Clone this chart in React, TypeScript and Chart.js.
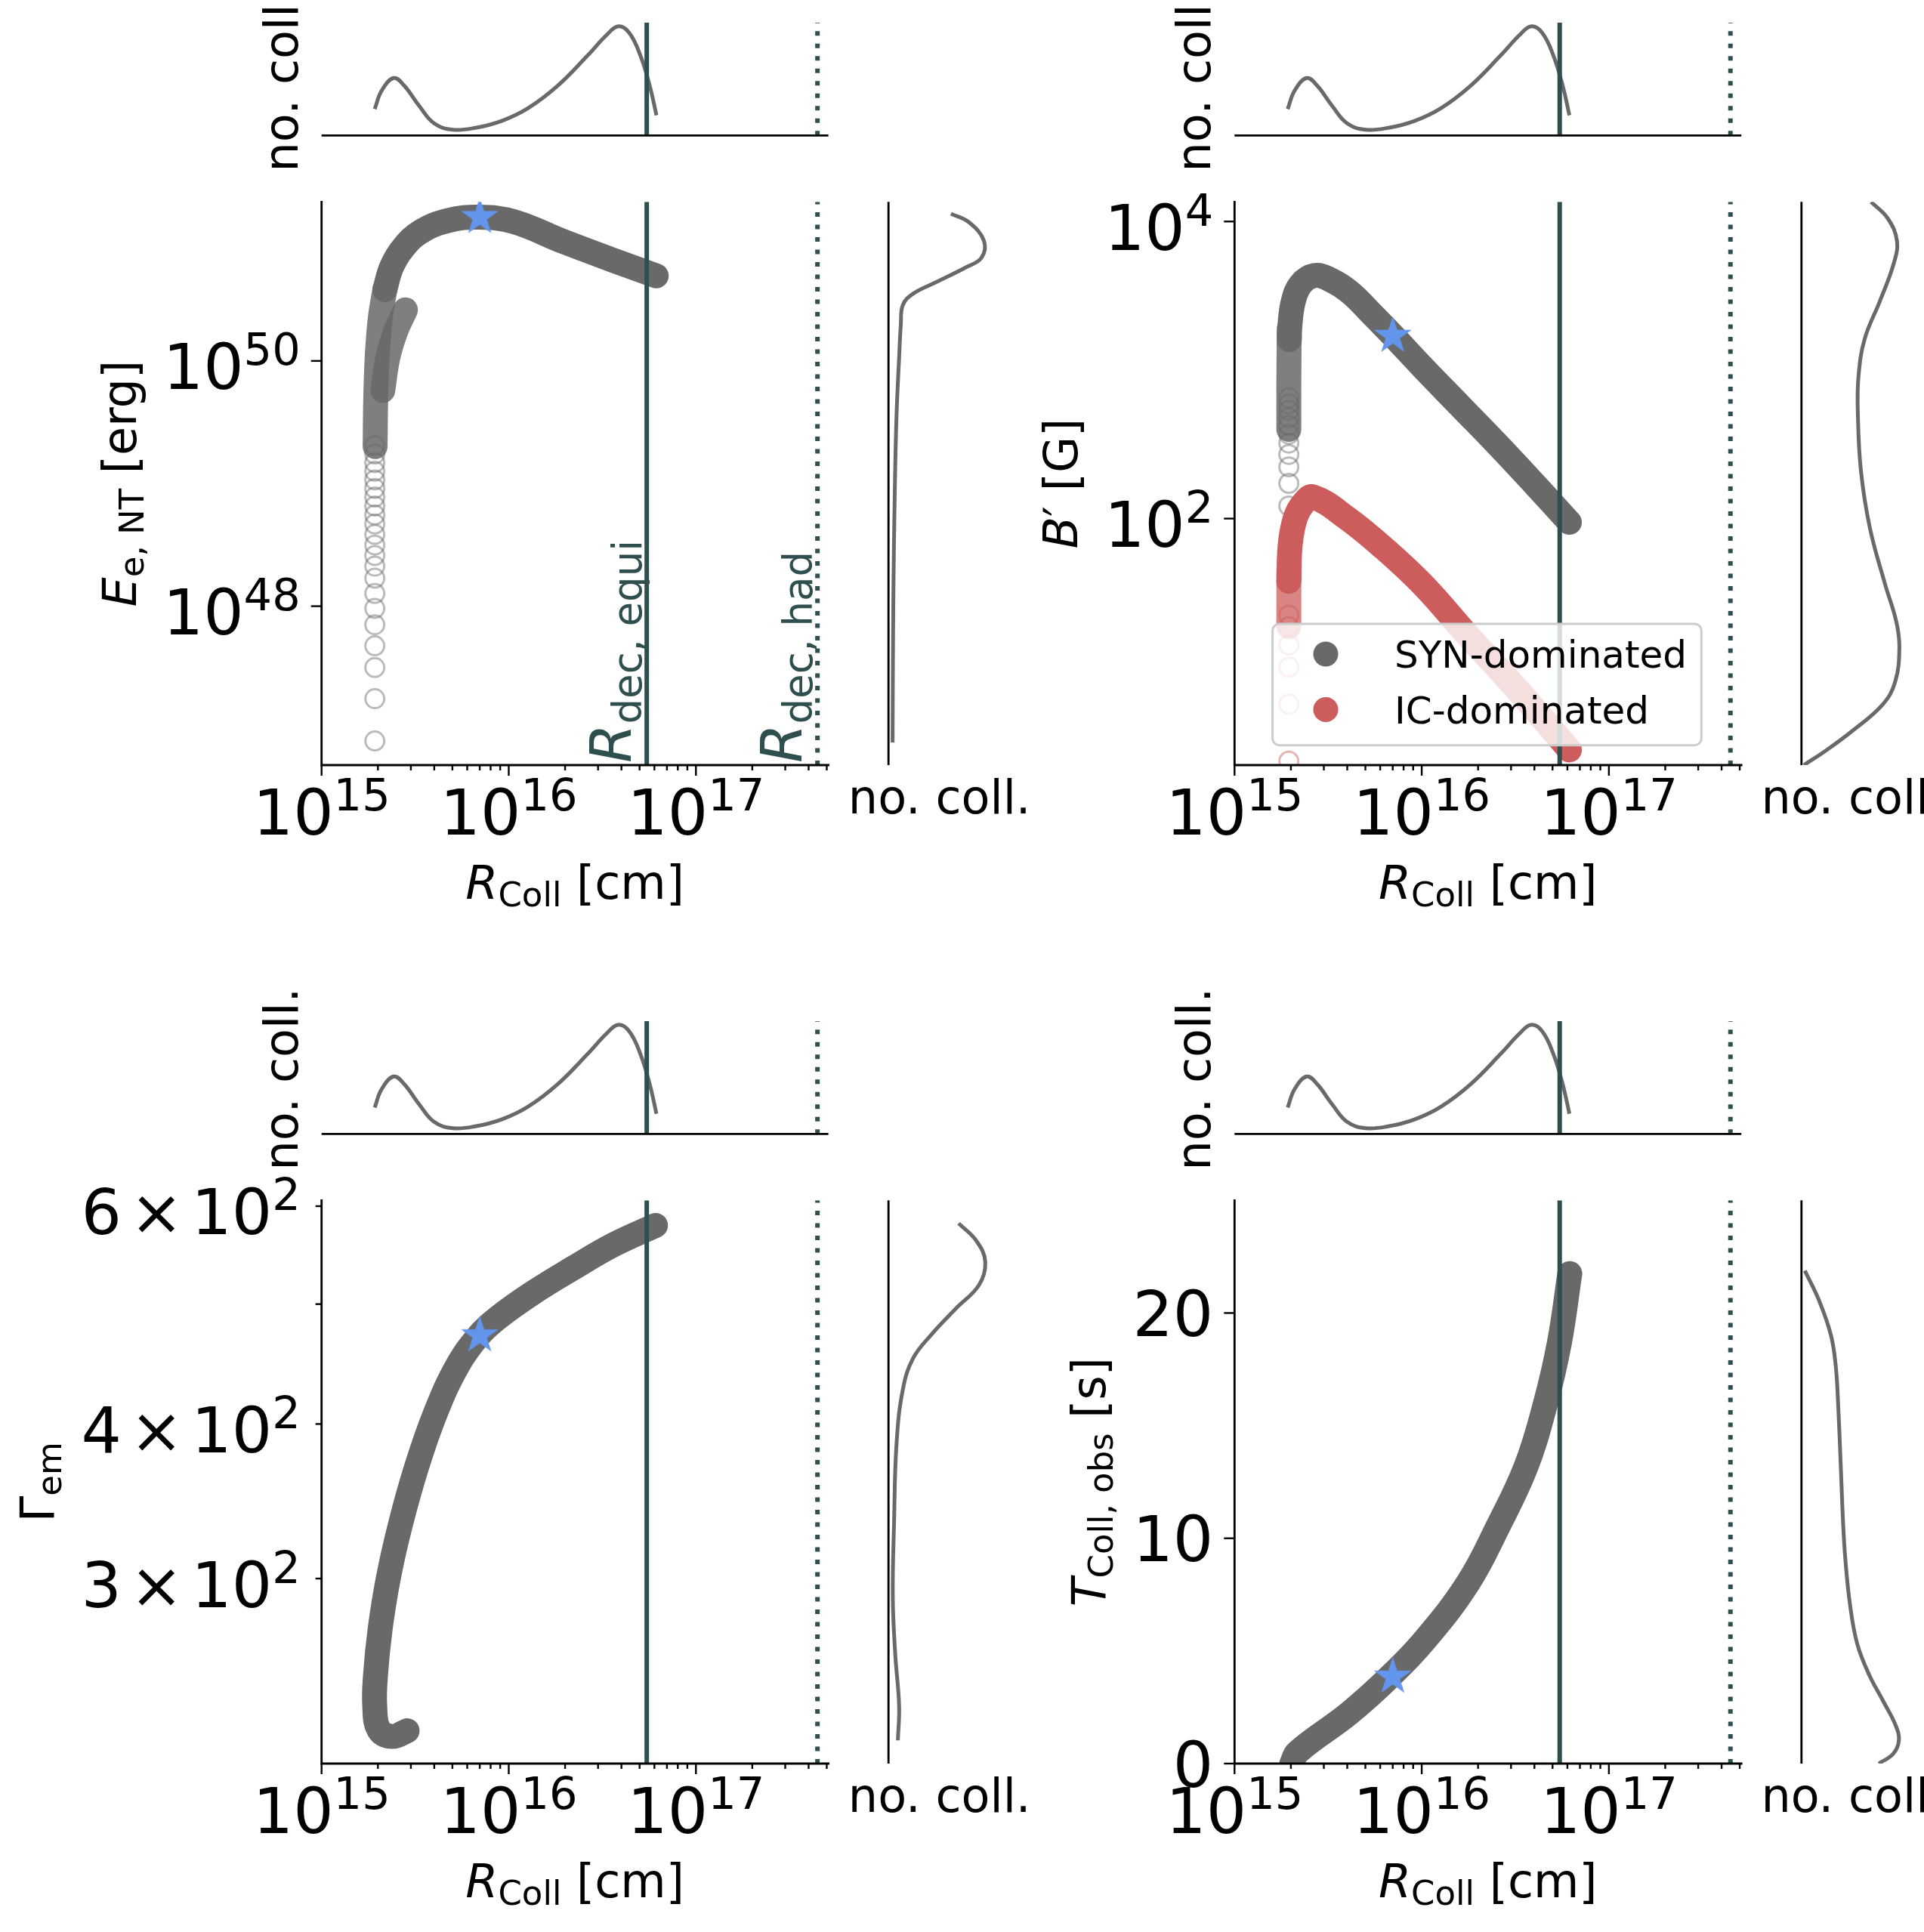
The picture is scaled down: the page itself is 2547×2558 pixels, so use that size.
import React, { useEffect, useRef } from 'react';
import { Chart, registerables } from 'chart.js';

Chart.register(...registerables);

const FONT = '"DejaVu Sans", "Liberation Sans", sans-serif';
const GREY = 'rgb(105, 105, 105)';
const GREY_FADE = 'rgba(105, 105, 105, 0.85)';
const GREY_RING = 'rgba(105, 105, 105, 0.45)';
const RED = 'rgb(205, 92, 92)';
const RED_FADE = 'rgba(205, 92, 92, 0.75)';
const RED_RING = 'rgba(205, 92, 92, 0.45)';
const SLATE = 'rgb(47, 79, 79)';
const BLUE = 'rgb(100, 149, 237)';

// collision radius axis
const R_MIN = 1e15;
const R_MAX = 5.1e17;
const R_DECADES = [15, 16, 17];
const R_DEC_EQUI = 5.46e16;
const R_DEC_HAD = 4.46e17;
const R_STAR = 7.0e15;

// distribution of collisions over radius (top marginals)
const HIST_R = [1.923e15, 2.094e15, 2.427e15, 2.761e15, 3.319e15, 3.99e15, 5.023e15, 6.622e15, 9.162e15,
  1.265e16, 1.828e16, 2.642e16, 3.327e16, 3.828e16, 4.395e16, 5.047e16, 5.662e16, 6.152e16];
const HIST_N = [0.234, 0.397, 0.509, 0.442, 0.263, 0.107, 0.051, 0.067, 0.129, 0.241, 0.442, 0.71, 0.889,
  0.967, 0.911, 0.71, 0.442, 0.179];

// E_e,NT [erg]
const E_LIM = [5.06e46, 1.98e51];
const E_BAND_R = [2.178e15, 2.366e15, 2.723e15, 3.381e15, 4.753e15, 6.998e15, 1.064e16, 1.977e16, 3.673e16, 6.138e16];
const E_BAND = [3.81e50, 5.83e50, 8.32e50, 1.13e51, 1.396e51, 1.486e51, 1.365e51, 9.35e50, 6.56e50, 4.94e50];
const E_FADE_R = [1.932e15, 1.945e15, 1.972e15, 2.009e15, 2.07e15, 2.178e15];
const E_FADE = [2.0e49, 4.55e49, 9.25e49, 1.48e50, 2.38e50, 3.81e50];
const E_BRANCH_R = [2.123e15, 2.259e15, 2.477e15, 2.805e15];
const E_BRANCH = [5.75e49, 1.064e50, 1.706e50, 2.61e50];
const E_RING_AT = 1.925e15;
const E_RING = [7.96e46, 1.76e47, 3.16e47, 4.75e47, 7.06e47, 9.59e47, 1.27e48, 1.69e48, 2.12e48, 2.59e48,
  3.15e48, 3.85e48, 4.68e48, 5.55e48, 6.56e48, 7.76e48, 9.12e48, 1.07e49, 1.26e49, 1.48e49, 1.74e49, 2.04e49];
const E_STAR = 1.486e51;
const E_KDE_VAL = [1.585e51, 1.355e51, 9.53e50, 6.92e50, 5.81e50, 4.37e50, 3.53e50, 2.86e50, 2.0e50, 1.06e50,
  3.66e49, 8.89e48, 1.06e48, 7.73e46];
const E_KDE_N = [0.613, 0.787, 0.936, 0.911, 0.762, 0.464, 0.241, 0.141, 0.121, 0.104, 0.079, 0.062, 0.047, 0.04];

// B' [G]
const B_LIM = [2.19, 1.355e4];
const B_BAND_R = [1.962e15, 1.972e15, 2.056e15, 2.254e15, 2.673e15, 3.221e15, 4.121e15, 5.458e15, 7.047e15,
  1.014e16, 1.614e16, 2.57e16, 4.083e16, 6.152e16];
const B_BAND = [1600, 1941, 2871, 3767, 4325, 4074, 3350, 2360, 1694, 1040, 568, 310, 166, 94.4];
const B_FADE_R = [1.95e15, 1.95e15, 1.96e15];
const B_FADE = [398, 800, 1900];
const B_RING_AT = 1.95e15;
const B_RING = [70.3, 121.6, 172.6, 222.8, 270.4, 322.1, 369.8, 423.6, 476.4, 535.8, 590.2, 650.1];
const IC_BAND_R = [1.95e15, 1.986e15, 2.118e15, 2.323e15, 2.624e15, 3.981e15, 6.281e15, 1.028e16, 1.75e16,
  3.296e16, 6.152e16];
const IC_BAND = [37.8, 67.8, 102.1, 125.9, 140, 100.9, 63.1, 35.2, 16.5, 6.9, 2.77];
const IC_FADE_R = [1.95e15, 1.95e15];
const IC_FADE = [18.7, 44.7];
const IC_RING = [2.33, 5.62, 10.0, 14.1, 18.7, 22.4];
const B_STAR = 1694;
const B_KDE_VAL = [13550, 10540, 7430, 5224, 2911, 1622, 903.6, 504.7, 209.9, 87.1, 36.3, 20.2, 13.4, 7.93,
  5.58, 3.71, 2.77, 2.19];
const B_KDE_N = [0.682, 0.844, 0.936, 0.905, 0.769, 0.62, 0.559, 0.553, 0.583, 0.67, 0.819, 0.93, 0.96, 0.918,
  0.794, 0.496, 0.248, 0.024];
const LEGEND_LABELS = ['SYN-dominated', 'IC-dominated'];

// Gamma_em
const G_LIM = [212.6, 606.5];
const G_BAND_R = [2.864e15, 2.388e15, 2.023e15, 1.923e15, 1.941e15, 2.056e15, 2.27e15, 2.636e15, 3.221e15,
  4.064e15, 5.297e15, 6.918e15, 8.73e15, 1.343e16, 2.213e16, 3.639e16, 6.081e16];
const G_BAND = [226, 223.6, 226.5, 236.6, 250.5, 273.2, 299.9, 331.6, 369.4, 408.4, 445.3, 471.6, 487.3,
  510.5, 534.8, 558.5, 578.9];
const G_STAR = 471.6;
const G_TICKS = [300, 400, 500, 600];
const G_KDE_VAL = [581.1, 562.6, 540.8, 518.0, 496.1, 471.9, 452.0, 426.7, 385.9, 334.2, 289.5, 260.0, 236.8, 222.0];
const G_KDE_N = [0.688, 0.861, 0.949, 0.887, 0.663, 0.415, 0.241, 0.141, 0.079, 0.055, 0.042, 0.067, 0.104, 0.092];

// T_Coll,obs [s]
const T_LIM = [0, 25];
const T_BAND_R = [2.023e15, 2.173e15, 4.093e15, 6.745e15, 1.079e16, 1.778e16, 2.529e16, 3.606e16, 4.56e16,
  5.433e16, 6.18e16];
const T_BAND = [0, 0.51, 2.23, 3.85, 5.65, 8.05, 10.45, 13.18, 15.92, 18.66, 21.75];
const T_STAR = 3.85;
const T_TICKS = [0, 10, 20];
const T_KDE_VAL = [21.88, 20.55, 19.0, 17.6, 15.9, 13.36, 10.8, 9.08, 7.02, 5.31, 3.94, 2.74, 1.71, 1.03, 0.43, 0];
const T_KDE_N = [0.033, 0.173, 0.29, 0.337, 0.36, 0.384, 0.407, 0.43, 0.477, 0.547, 0.664, 0.805, 0.922, 0.955,
  0.899, 0.758];

// ---- text helpers ----
type Run = { t: string; size: number; it?: boolean; dy?: number; gap?: number };

const LBL = 62; // axis label size
const SUB = 45; // subscript size

const fontOf = (r: Run) => `${r.it ? 'italic ' : ''}${r.size}px ${FONT}`;

function runsWidth(ctx: CanvasRenderingContext2D, runs: Run[]) {
  let w = 0;
  for (const r of runs) {
    ctx.font = fontOf(r);
    w += (r.gap || 0) + ctx.measureText(r.t).width;
  }
  return w;
}

function drawRuns(ctx: CanvasRenderingContext2D, runs: Run[], x: number, y: number, align: string) {
  const w = runsWidth(ctx, runs);
  let cx = align === 'left' ? x : align === 'right' ? x - w : x - w / 2;
  ctx.textAlign = 'left';
  ctx.textBaseline = 'alphabetic';
  for (const r of runs) {
    ctx.font = fontOf(r);
    cx += r.gap || 0;
    ctx.fillText(r.t, cx, y + (r.dy || 0));
    cx += ctx.measureText(r.t).width;
  }
}

const pow10 = (e: number): Run[] => [{ t: '10', size: 84 }, { t: String(e), size: 59, dy: -32 }];
const times10 = (v: number): Run[] => [
  { t: String(v / 100), size: 84 },
  { t: '\u00d7', size: 84, gap: 11 },
  { t: '10', size: 84, gap: 11 },
  { t: '2', size: 59, dy: -32 },
];

const X_LABEL: Run[] = [{ t: 'R', size: LBL, it: true }, { t: 'Coll', size: SUB, dy: 10 }, { t: ' [cm]', size: LBL }];
const MARGIN_LABEL: Run[] = [{ t: 'no. coll.', size: LBL }];

// ---- dataset helpers ----
const pts = (xs: number[], ys: number[]) => xs.map((x, i) => ({ x, y: ys[i] }));
const at = (x: number, ys: number[]) => ys.map((y) => ({ x, y }));

let starImage: HTMLCanvasElement | null = null;
function getStar() {
  if (starImage) return starImage;
  const s = 56;
  const c = document.createElement('canvas');
  c.width = s;
  c.height = s;
  const g = c.getContext('2d')!;
  const R = 26.3;
  const r = R * 0.382;
  g.fillStyle = BLUE;
  g.beginPath();
  for (let i = 0; i < 10; i++) {
    const rad = i % 2 === 0 ? R : r;
    const ang = -Math.PI / 2 + (i * Math.PI) / 5;
    const px = s / 2 + rad * Math.cos(ang);
    const py = s / 2 + rad * Math.sin(ang);
    if (i === 0) g.moveTo(px, py);
    else g.lineTo(px, py);
  }
  g.closePath();
  g.fill();
  starImage = c;
  return c;
}

const band = (data: any[], color: string, order: number, width = 33) => ({
  data,
  showLine: true,
  borderColor: color,
  borderWidth: width,
  borderCapStyle: 'round',
  borderJoinStyle: 'round',
  tension: 0.4,
  capBezierPoints: false,
  pointRadius: 0,
  order,
});

const rings = (data: any[], color: string) => ({
  data,
  showLine: false,
  pointRadius: 12.5,
  pointBorderWidth: 3,
  pointBorderColor: color,
  pointBackgroundColor: 'rgba(0,0,0,0)',
  order: 4,
});

const vline = (x: number, lim: number[], dotted: boolean) => ({
  data: [{ x, y: lim[0] }, { x, y: lim[1] }],
  showLine: true,
  borderColor: SLATE,
  borderWidth: 6,
  borderDash: dotted ? [6, 10.5] : [],
  pointRadius: 0,
  order: 1,
});

const star = (x: number, y: number) => ({
  data: [{ x, y }],
  pointStyle: getStar(),
  pointRadius: 26,
  order: 0,
});

const kde = (data: any[]) => ({
  data,
  showLine: true,
  borderColor: GREY,
  borderWidth: 5,
  tension: 0.4,
  capBezierPoints: false,
  pointRadius: 0,
  order: 2,
});

// ---- axes drawing ----
function drawMain(chart: any, spec: any) {
  const { ctx, chartArea: a } = chart;
  const xs = chart.scales.x;
  const ys = chart.scales.y;
  ctx.save();
  ctx.strokeStyle = '#000';
  ctx.fillStyle = '#000';
  ctx.lineWidth = 2.8;
  ctx.lineCap = 'square';
  ctx.beginPath();
  ctx.moveTo(a.left, a.top);
  ctx.lineTo(a.left, a.bottom);
  ctx.lineTo(a.right, a.bottom);
  ctx.stroke();
  ctx.lineCap = 'butt';
  ctx.lineWidth = 2.4;
  for (const e of R_DECADES) {
    for (let m = 1; m <= 9; m++) {
      const v = m * Math.pow(10, e);
      if (v < R_MIN || v > R_MAX) continue;
      const px = xs.getPixelForValue(v);
      ctx.beginPath();
      ctx.moveTo(px, a.bottom);
      ctx.lineTo(px, a.bottom + (m === 1 ? 14 : 7));
      ctx.stroke();
    }
    drawRuns(ctx, pow10(e), xs.getPixelForValue(Math.pow(10, e)), a.bottom + 92, 'center');
  }
  let maxW = 0;
  for (const t of spec.yTicks) {
    const py = ys.getPixelForValue(t.v);
    ctx.beginPath();
    ctx.moveTo(a.left, py);
    ctx.lineTo(a.left - t.len, py);
    ctx.stroke();
    if (t.runs) {
      drawRuns(ctx, t.runs, a.left - 28, py + spec.yShift, 'right');
      maxW = Math.max(maxW, runsWidth(ctx, t.runs));
    }
  }
  drawRuns(ctx, X_LABEL, (a.left + a.right) / 2, a.bottom + 177, 'center');
  ctx.save();
  ctx.translate(a.left - 28 - maxW - 36, (a.top + a.bottom) / 2);
  ctx.rotate(-Math.PI / 2);
  drawRuns(ctx, spec.ylabel, 0, 0, 'center');
  ctx.restore();

  if (spec.decLabels) {
    ctx.fillStyle = SLATE;
    const labels: [number, string][] = [[R_DEC_EQUI, 'dec, equi'], [R_DEC_HAD, 'dec, had']];
    for (const [r, name] of labels) {
      const px = xs.getPixelForValue(r);
      ctx.save();
      ctx.translate(px - 21.6, a.bottom - 3);
      ctx.rotate(-Math.PI / 2);
      drawRuns(ctx, [{ t: 'R', size: 74, it: true }, { t: name, size: 53, dy: 14.5 }], 0, 0, 'left');
      ctx.restore();
    }
  }

  if (spec.legend) {
    const lx = a.left + 50.3;
    const ly = a.top + 558.7;
    const lw = 567.7;
    const lh = 160.7;
    const rr = 9;
    ctx.beginPath();
    ctx.moveTo(lx + rr, ly);
    ctx.lineTo(lx + lw - rr, ly);
    ctx.arcTo(lx + lw, ly, lx + lw, ly + rr, rr);
    ctx.lineTo(lx + lw, ly + lh - rr);
    ctx.arcTo(lx + lw, ly + lh, lx + lw - rr, ly + lh, rr);
    ctx.lineTo(lx + rr, ly + lh);
    ctx.arcTo(lx, ly + lh, lx, ly + lh - rr, rr);
    ctx.lineTo(lx, ly + rr);
    ctx.arcTo(lx, ly, lx + rr, ly, rr);
    ctx.closePath();
    ctx.fillStyle = 'rgba(255,255,255,0.8)';
    ctx.fill();
    ctx.strokeStyle = '#cccccc';
    ctx.lineWidth = 3;
    ctx.stroke();
    const colors = [GREY, RED];
    LEGEND_LABELS.forEach((label, i) => {
      ctx.fillStyle = colors[i];
      ctx.beginPath();
      ctx.arc(lx + 70.4, ly + 40 + 73.4 * i, 16.5, 0, Math.PI * 2);
      ctx.fill();
      ctx.fillStyle = '#000';
      drawRuns(ctx, [{ t: label, size: 50 }], lx + 161.4, ly + 58.3 + 73.4 * i, 'left');
    });
  }
  ctx.restore();
}

function drawTop(chart: any) {
  const { ctx, chartArea: a } = chart;
  ctx.save();
  ctx.strokeStyle = '#000';
  ctx.fillStyle = '#000';
  ctx.lineWidth = 2.8;
  ctx.beginPath();
  ctx.moveTo(a.left, a.bottom);
  ctx.lineTo(a.right, a.bottom);
  ctx.stroke();
  ctx.translate(a.left - 32, (a.top + a.bottom) / 2 + 2);
  ctx.rotate(-Math.PI / 2);
  drawRuns(ctx, MARGIN_LABEL, 0, 0, 'center');
  ctx.restore();
}

function drawSide(chart: any) {
  const { ctx, chartArea: a } = chart;
  ctx.save();
  ctx.strokeStyle = '#000';
  ctx.fillStyle = '#000';
  ctx.lineWidth = 2.8;
  ctx.beginPath();
  ctx.moveTo(a.left, a.top);
  ctx.lineTo(a.left, a.bottom);
  ctx.stroke();
  drawRuns(ctx, MARGIN_LABEL, (a.left + a.right) / 2, a.bottom + 64, 'center');
  ctx.restore();
}

// ---- chart configs ----
const logR = { type: 'logarithmic', min: R_MIN, max: R_MAX, display: false, bounds: 'data' };

function makeOptions(x: any, y: any) {
  return {
    responsive: false,
    animation: false,
    devicePixelRatio: 1,
    events: [],
    plugins: { legend: { display: false }, tooltip: { enabled: false } },
    scales: { x, y },
  };
}

type Area = { l: number; t: number; r: number; b: number };
type Box = { x: number; y: number; w: number; h: number };

function ChartCanvas({ box, area, build }: { box: Box; area: Area; build: () => any }) {
  const ref = useRef<HTMLCanvasElement>(null);
  useEffect(() => {
    if (!ref.current) return;
    const cfg = build();
    cfg.options.layout = {
      padding: {
        left: area.l - box.x,
        top: area.t - box.y,
        right: box.x + box.w - area.r,
        bottom: box.y + box.h - area.b,
      },
    };
    const chart = new Chart(ref.current, cfg);
    return () => chart.destroy();
  }, []);
  return (
    <canvas
      ref={ref}
      width={box.w}
      height={box.h}
      style={{ position: 'absolute', left: box.x, top: box.y, width: box.w, height: box.h }}
    />
  );
}

const PANELS = [
  {
    col: 0,
    row: 0,
    y: { type: 'logarithmic', min: E_LIM[0], max: E_LIM[1] },
    datasets: () => [
      star(R_STAR, E_STAR),
      vline(R_DEC_EQUI, E_LIM, false),
      vline(R_DEC_HAD, E_LIM, true),
      band(pts(E_BAND_R, E_BAND), GREY, 2),
      band(pts(E_FADE_R, E_FADE), GREY_FADE, 3),
      band(pts(E_BRANCH_R, E_BRANCH), GREY_FADE, 3),
      rings(at(E_RING_AT, E_RING), GREY_RING),
    ],
    spec: {
      yTicks: [{ v: 1e48, len: 14, runs: pow10(48) }, { v: 1e50, len: 14, runs: pow10(50) }],
      yShift: 37.5,
      ylabel: [{ t: 'E', size: LBL, it: true }, { t: 'e, NT', size: SUB, dy: 10 }, { t: ' [erg]', size: LBL }],
      decLabels: true,
    },
    kde: pts(E_KDE_N, E_KDE_VAL),
  },
  {
    col: 1,
    row: 0,
    y: { type: 'logarithmic', min: B_LIM[0], max: B_LIM[1] },
    datasets: () => [
      star(R_STAR, B_STAR),
      vline(R_DEC_EQUI, B_LIM, false),
      vline(R_DEC_HAD, B_LIM, true),
      band(pts(B_BAND_R, B_BAND), GREY, 2),
      band(pts(IC_BAND_R, IC_BAND), RED, 2),
      band(pts(B_FADE_R, B_FADE), GREY_FADE, 3),
      band(pts(IC_FADE_R, IC_FADE), RED_FADE, 3),
      rings(at(B_RING_AT, B_RING), GREY_RING),
      rings(at(B_RING_AT, IC_RING), RED_RING),
    ],
    spec: {
      yTicks: [{ v: 1e2, len: 14, runs: pow10(2) }, { v: 1e4, len: 14, runs: pow10(4) }],
      yShift: 37.5,
      ylabel: [{ t: 'B', size: LBL, it: true }, { t: '\u2032', size: LBL }, { t: ' [G]', size: LBL }],
      legend: true,
    },
    kde: pts(B_KDE_N, B_KDE_VAL),
  },
  {
    col: 0,
    row: 1,
    y: { type: 'logarithmic', min: G_LIM[0], max: G_LIM[1] },
    datasets: () => [
      star(R_STAR, G_STAR),
      vline(R_DEC_EQUI, G_LIM, false),
      vline(R_DEC_HAD, G_LIM, true),
      band(pts(G_BAND_R, G_BAND), GREY, 2),
    ],
    spec: {
      yTicks: G_TICKS.map((v) => ({ v, len: 8, runs: v === 500 ? null : times10(v) })),
      yShift: 37.5,
      ylabel: [{ t: '\u0393', size: LBL }, { t: 'em', size: SUB, dy: 10 }],
    },
    kde: pts(G_KDE_N, G_KDE_VAL),
  },
  {
    col: 1,
    row: 1,
    y: { type: 'linear', min: T_LIM[0], max: T_LIM[1] },
    datasets: () => [
      star(R_STAR, T_STAR),
      vline(R_DEC_EQUI, T_LIM, false),
      vline(R_DEC_HAD, T_LIM, true),
      band(pts(T_BAND_R, T_BAND), GREY, 2),
    ],
    spec: {
      yTicks: T_TICKS.map((v) => ({ v, len: 14, runs: [{ t: String(v), size: 84 }] })),
      yShift: 30.5,
      ylabel: [{ t: 'T', size: LBL, it: true }, { t: 'Coll, obs', size: SUB, dy: 10 }, { t: ' [s]', size: LBL }],
    },
    kde: pts(T_KDE_N, T_KDE_VAL),
  },
];

// layout of the top-left block; other blocks are shifted copies
const COL_DX = [0, 1208.6];
const ROW_DY = [0, 1322];
const MAIN: Area = { l: 425.7, t: 267.3, r: 1096.6, b: 1013 };
const TOP: Area = { l: 425.7, t: 30, r: 1096.6, b: 179.3 };
const SIDE: Area = { l: 1176.2, t: 267.3, r: 1311.2, b: 1013 };

const shift = (a: Area, dx: number, dy: number): Area => ({ l: a.l + dx, t: a.t + dy, r: a.r + dx, b: a.b + dy });
const around = (a: Area, left: number, top: number, right: number, bottom: number): Box => {
  const x = Math.floor(a.l - left);
  const y = Math.floor(a.t - top);
  return { x, y, w: Math.ceil(a.r + right) - x, h: Math.ceil(a.b + bottom) - y };
};

export default function App() {
  return (
    <div
      style={{
        position: 'absolute',
        left: 0,
        top: 0,
        width: 2547,
        height: 2558,
        overflow: 'hidden',
        background: '#fff',
      }}
    >
      {PANELS.map((p, i) => {
        const dx = COL_DX[p.col];
        const dy = ROW_DY[p.row];
        const main = shift(MAIN, dx, dy);
        const top = shift(TOP, dx, dy);
        const side = shift(SIDE, dx, dy);
        const yScale = { ...p.y, display: false, bounds: 'data' };
        return (
          <React.Fragment key={i}>
            <ChartCanvas
              box={around(top, 120, 60, 20, 70)}
              area={top}
              build={() => ({
                type: 'scatter',
                data: {
                  datasets: [
                    vline(R_DEC_EQUI, [0, 1], false),
                    vline(R_DEC_HAD, [0, 1], true),
                    kde(pts(HIST_R, HIST_N)),
                  ],
                },
                options: makeOptions(logR, { type: 'linear', min: 0, max: 1, display: false, bounds: 'data' }),
                plugins: [{ id: 'topFrame', afterDraw: (c: any) => drawTop(c) }],
              })}
            />
            <ChartCanvas
              box={around(main, 425, 40, 40, 215)}
              area={main}
              build={() => ({
                type: 'scatter',
                data: { datasets: p.datasets() },
                options: makeOptions(logR, yScale),
                plugins: [{ id: 'mainFrame', afterDraw: (c: any) => drawMain(c, p.spec) }],
              })}
            />
            <ChartCanvas
              box={around(side, 80, 20, 80, 90)}
              area={side}
              build={() => ({
                type: 'scatter',
                data: { datasets: [kde(p.kde)] },
                options: makeOptions({ type: 'linear', min: 0, max: 1, display: false, bounds: 'data' }, yScale),
                plugins: [{ id: 'sideFrame', afterDraw: (c: any) => drawSide(c) }],
              })}
            />
          </React.Fragment>
        );
      })}
    </div>
  );
}
